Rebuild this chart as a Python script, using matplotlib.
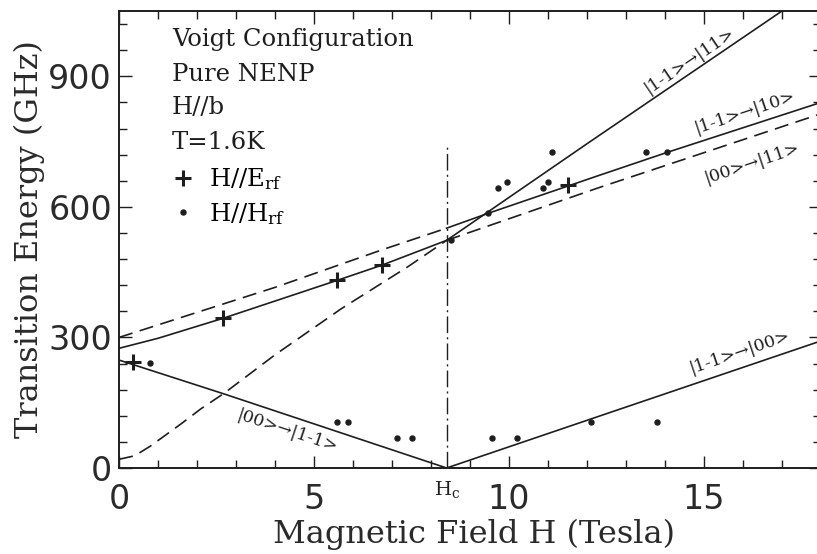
import matplotlib.pyplot as plt
from matplotlib.ticker import MultipleLocator

# critical field (T)
Hc = 8.4

# |00> -> |1-1> below Hc, |1-1> -> |00> above Hc
h_low_a = [0.0, 2.7, 8.4]
e_low_a = [248, 170, 0]
h_low_b = [8.4, 13.0, 18.0]
e_low_b = [0, 140, 292]

# steep branch: dashed below Hc, |1-1> -> |11> above Hc
h_steep_a = [0.0, 0.4, 0.8, 1.2, 1.6, 2.1, 2.7, 4.0, 5.7, 7.4, 8.4]
e_steep_a = [20, 28, 50, 76, 102, 136, 172, 260, 366, 462, 523]
h_steep_b = [8.4, 12.0, 17.0]
e_steep_b = [523, 745, 1050]

# lower middle branch: solid below Hc, |00> -> |11> (dashed) above Hc
h_mid_a = [0.0, 1.0, 2.67, 5.59, 6.74, 8.4]
e_mid_a = [275, 298, 344, 431, 466, 523]
h_mid_b = [8.4, 12.3, 18.0]
e_mid_b = [523, 644, 814]

# upper middle branch: dashed below Hc, |1-1> -> |10> above Hc
h_up_a = [0.0, 4.0, 6.8, 8.4]
e_up_a = [300, 415, 503, 551]
h_up_b = [8.4, 9.46, 12.3, 14.05, 18.0]
e_up_b = [551, 585, 672, 725, 840]

# measured resonances
cross_H = [0.36, 2.67, 5.59, 6.74, 11.5]
cross_E = [243, 344, 431, 466, 650]
dot_H = [0.79, 5.59, 5.87, 7.13, 7.51, 8.5, 9.46, 9.56, 9.72, 9.95, 10.2,
         10.87, 11.0, 11.1, 12.1, 13.5, 13.8, 14.05]
dot_E = [241, 106, 106, 69, 69, 525, 587, 69, 643, 656, 69,
         643, 656, 725, 106, 725, 106, 725]

hc_line_top = 745

ink = '#1e1e1e'
serif = 'DejaVu Serif'
plt.rcParams['mathtext.fontset'] = 'dejavuserif'

fig = plt.figure(figsize=(8.17, 5.54), dpi=100)
ax = fig.add_axes([119 / 817, 86 / 554, 702 / 817, 457 / 554])

lw = 1.2
dash = (8.5, 4.5)
ax.plot(h_low_a, e_low_a, color=ink, lw=lw)
ax.plot(h_low_b, e_low_b, color=ink, lw=lw)
ax.plot(h_steep_a, e_steep_a, color=ink, lw=lw, dashes=dash)
ax.plot(h_steep_b, e_steep_b, color=ink, lw=lw)
ax.plot(h_mid_a, e_mid_a, color=ink, lw=lw)
ax.plot(h_mid_b, e_mid_b, color=ink, lw=lw, dashes=dash)
ax.plot(h_up_a, e_up_a, color=ink, lw=lw, dashes=dash)
ax.plot(h_up_b, e_up_b, color=ink, lw=lw)

ax.plot([Hc, Hc], [0, hc_line_top], color=ink, lw=1.0, dashes=(12, 3, 1.5, 3))

p_cross, = ax.plot(cross_H, cross_E, ls='none', marker='+', ms=11, mew=2.2, color=ink)
p_dot, = ax.plot(dot_H, dot_E, ls='none', marker='o', ms=3.6, color=ink)

ax.set_xlim(0, 18)
ax.set_ylim(0, 1050)
ax.xaxis.set_major_locator(MultipleLocator(5))
ax.xaxis.set_minor_locator(MultipleLocator(1))
ax.yaxis.set_major_locator(MultipleLocator(300))
ax.yaxis.set_minor_locator(MultipleLocator(60))
ax.tick_params(which='both', direction='in', top=True, right=True, color=ink, width=1.0)
ax.tick_params(which='major', length=9)
ax.tick_params(which='minor', length=6)
ax.tick_params(axis='x', which='major', pad=11)
ax.tick_params(axis='y', which='major', pad=5)
for lab in ax.get_xticklabels() + ax.get_yticklabels():
    lab.set_fontsize(24)
    lab.set_color('#2a2a2a')
for s in ax.spines.values():
    s.set_linewidth(1.4)
    s.set_color(ink)

ax.text(Hc, -0.048, r'H$_{\rm c}$', transform=ax.get_xaxis_transform(),
        ha='center', va='center', fontsize=14, family=serif, color=ink)

ax.set_xlabel('Magnetic Field H (Tesla)', fontsize=23, family=serif, color='#2a2a2a')
ax.set_ylabel('Transition Energy (GHz)', fontsize=23, family=serif, color='#2a2a2a')
ax.xaxis.set_label_coords(0.505, -0.112)
ax.yaxis.set_label_coords(-0.106, 0.5)

info = ['Voigt Configuration', 'Pure NENP', 'H//b', 'T=1.6K']
info_y = [0.937, 0.860, 0.788, 0.713]
for t, y in zip(info, info_y):
    ax.text(0.0755, y, t, transform=ax.transAxes, fontsize=17.5, family=serif,
            va='center', ha='left', color=ink)

ax.legend([p_cross, p_dot], [r'H//E$_{\rm rf}$', r'H//H$_{\rm rf}$'],
          loc='upper left', bbox_to_anchor=(0.042, 0.708), frameon=False,
          handlelength=1.0, handletextpad=0.6, labelspacing=0.35,
          prop={'family': serif, 'size': 17.5})

kets = [
    ('|1-1>→|11>', 14.64, 936, 34),
    ('|1-1>→|10>', 16.05, 817, 18.5),
    ('|00>→|11>', 16.23, 700, 18.5),
    ('|1-1>→|00>', 15.92, 266, 18.7),
    ('|00>→|1-1>', 4.33, 83, -18.3),
]
for t, x, y, rot in kets:
    ax.text(x, y, t, rotation=rot, rotation_mode='anchor', ha='center', va='center',
            fontsize=12.5, family=serif, color=ink)

fig.savefig('out.png', dpi=100)
